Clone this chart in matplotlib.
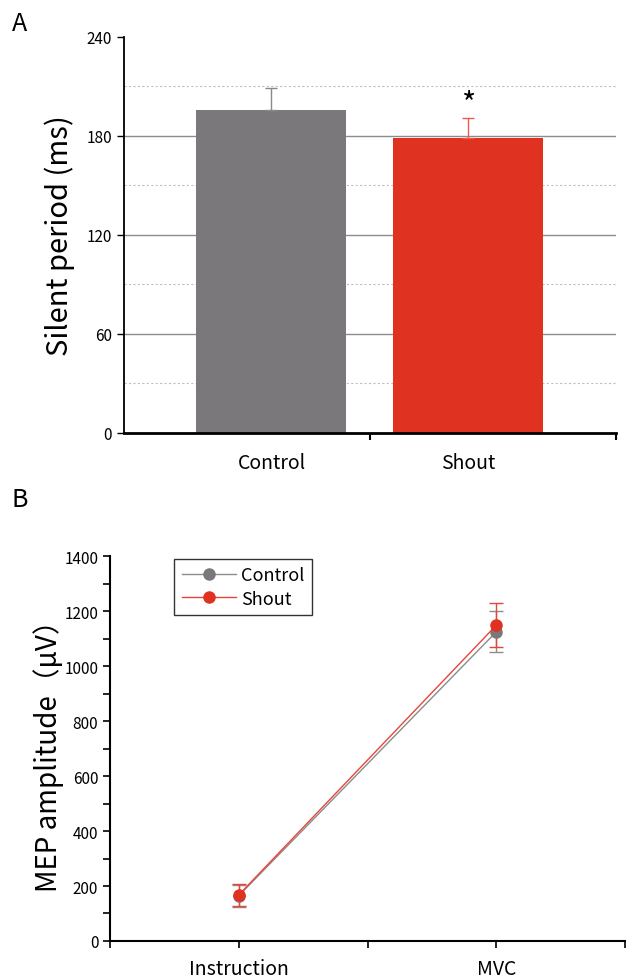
import matplotlib
matplotlib.use('Agg')
import matplotlib.pyplot as plt
from matplotlib.lines import Line2D

plt.rcParams['font.family'] = ['Noto Sans CJK JP', 'DejaVu Sans']

# panel A data
groups = ['Control', 'Shout']
silent_mean = [196, 179]
silent_err = [13, 12]
bar_colors = ['#7a787b', '#e03220']
err_colors = ['#8a888b', '#ec5a50']

# panel B data
conditions = ['Instruction', 'MVC']
control_mep = [165, 1125]
control_err = [40, 75]
shout_mep = [168, 1149]
shout_err = [40, 80]

fig = plt.figure(figsize=(6.29, 9.79), dpi=100)

#A
ax1 = fig.add_axes([0.197, 0.5567, 0.782, 0.4045])
for y in [60, 120, 180]:
    ax1.axhline(y, color='#8c8c8c', lw=1, zorder=0)
for y in [30, 90, 150, 210]:
    ax1.axhline(y, color='#c0c0c0', lw=0.8, ls=(0, (2, 2)), zorder=0)
xpos = [0.3, 0.7]
for i in range(2):
    ax1.bar(xpos[i], silent_mean[i], width=0.305, color=bar_colors[i], zorder=2)
    ax1.errorbar(xpos[i], silent_mean[i], yerr=[[0], [silent_err[i]]], color=err_colors[i],
                 capsize=4, lw=1, capthick=1, zorder=3)
ax1.text(xpos[1], silent_mean[1] + silent_err[1] - 1, '*', ha='center', va='bottom', fontsize=22)
ax1.set_xlim(0, 1)
ax1.set_ylim(0, 240)
ax1.set_yticks([0, 60, 120, 180, 240])
ax1.set_xticks(xpos, groups, fontsize=14)
ax1.tick_params(axis='x', length=0, pad=14)
ax1.set_xticks([0.5, 1.0], minor=True)
ax1.tick_params(axis='x', which='minor', length=5, width=1.5)
ax1.tick_params(axis='y', labelsize=11, length=5, width=1)
ax1.spines['top'].set_visible(False)
ax1.spines['right'].set_visible(False)
ax1.spines['bottom'].set_linewidth(2)
ax1.spines['left'].set_linewidth(1.3)
ax1.set_ylabel('Silent period (ms)', fontsize=21, labelpad=8)
fig.text(0.019, 0.975, 'A', fontsize=18, va='center')

#B
ax2 = fig.add_axes([0.175, 0.0378, 0.819, 0.3932])
xb = [1, 2]
ax2.errorbar(xb, control_mep, yerr=control_err, color='#8c8c8c', marker='o', ms=8,
             mfc='#7a787b', mec='#7a787b', lw=1, capsize=5)
ax2.errorbar(xb, shout_mep, yerr=shout_err, color='#e8453a', marker='o', ms=8,
             mfc='#e03220', mec='#e03220', lw=1, capsize=5)
ax2.set_xlim(0.5, 2.5)
ax2.set_ylim(0, 1400)
ax2.set_yticks(range(0, 1401, 200))
ax2.set_yticks(range(100, 1400, 200), minor=True)
ax2.set_xticks(xb, conditions, fontsize=14)
ax2.set_xticks([0.5, 1.5, 2.5], minor=True)
ax2.tick_params(axis='both', which='both', length=5, width=1.2)
ax2.tick_params(axis='x', pad=7)
ax2.tick_params(axis='y', labelsize=11)
ax2.spines['top'].set_visible(False)
ax2.spines['right'].set_visible(False)
ax2.spines['bottom'].set_linewidth(1.5)
ax2.spines['left'].set_linewidth(1.5)
ax2.set_ylabel('MEP amplitude（μV）', fontsize=20, labelpad=0)
handles = [Line2D([], [], color='#8c8c8c', marker='o', ms=8, mfc='#7a787b', mec='#7a787b', lw=1),
           Line2D([], [], color='#e8453a', marker='o', ms=8, mfc='#e03220', mec='#e03220', lw=1)]
leg = ax2.legend(handles, ['Control', 'Shout'], loc='upper left', bbox_to_anchor=(0.125, 0.992),
                 fontsize=13, frameon=True, fancybox=False, edgecolor='black', borderpad=0.4,
                 handlelength=3, labelspacing=0.3, handletextpad=0.3, borderaxespad=0)
leg.get_frame().set_linewidth(1)
fig.text(0.019, 0.489, 'B', fontsize=18, va='center')

plt.savefig('out.png', dpi=100)
